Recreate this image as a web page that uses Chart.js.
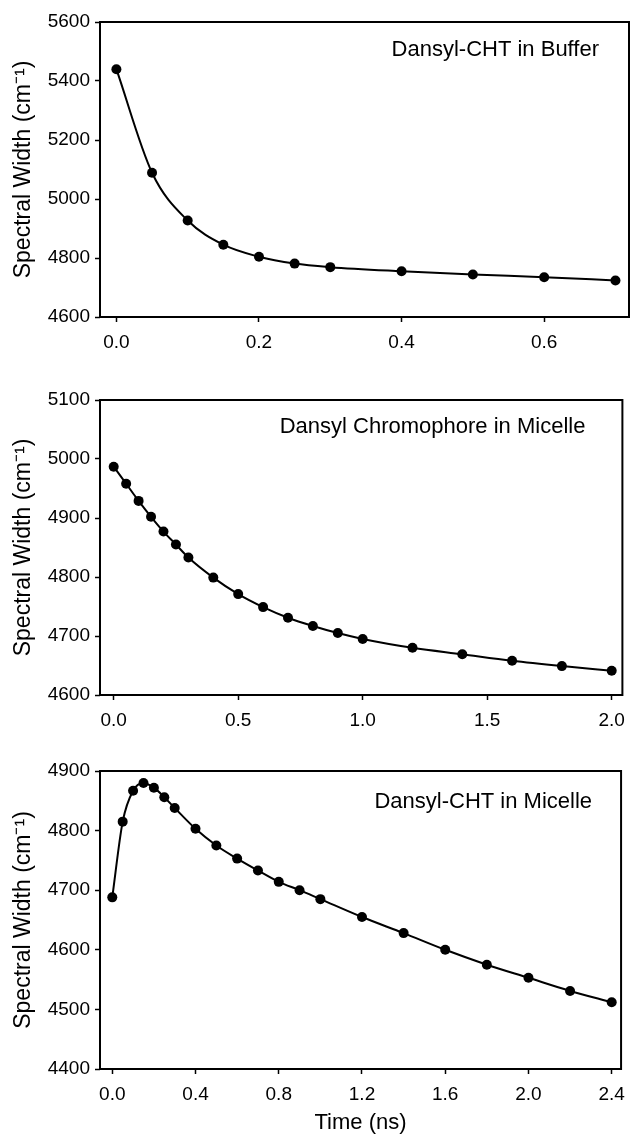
<!DOCTYPE html>
<html>
<head>
<meta charset="utf-8">
<script src="https://cdn.jsdelivr.net/npm/chart.js@4.4.1/dist/chart.umd.min.js"></script>
<style>
    html, body { margin: 0; padding: 0; background: #fff; }
    #wrap { position: relative; width: 634px; height: 1134px; }
    .panel { position: absolute; left: 0; width: 634px; }
</style>
</head>
<body>
<div id="wrap">
    <div class="panel" style="top:0px"><canvas id="chartBuffer" width="634" height="360"></canvas></div>
    <div class="panel" style="top:378px"><canvas id="chartChromophore" width="634" height="360"></canvas></div>
    <div class="panel" style="top:749px"><canvas id="chartMicelle" width="634" height="385"></canvas></div>
</div>
<script>
// Dansyl-CHT in Buffer
var bufferTime  = [0, 0.05, 0.1, 0.15, 0.2, 0.25, 0.3, 0.4, 0.5, 0.6, 0.7];
var bufferWidth = [5440, 5089, 4927, 4845, 4804, 4781, 4769, 4755, 4744, 4735, 4724];
var bufferTicksX = [0, 0.2, 0.4, 0.6];
var bufferTicksY = [4600, 4800, 5000, 5200, 5400, 5600];

// Dansyl Chromophore in Micelle
var chromTime  = [0, 0.05, 0.1, 0.15, 0.2, 0.25, 0.3, 0.4, 0.5, 0.6, 0.7, 0.8, 0.9, 1.0, 1.2, 1.4, 1.6, 1.8, 2.0];
var chromWidth = [4987, 4958, 4929, 4902, 4877, 4855, 4833, 4799, 4771, 4749, 4731, 4717, 4705, 4695, 4680, 4669, 4658, 4649, 4641];
var chromTicksX = [0, 0.5, 1.0, 1.5, 2.0];
var chromTicksY = [4600, 4700, 4800, 4900, 5000, 5100];

// Dansyl-CHT in Micelle
var micTime  = [0, 0.05, 0.1, 0.15, 0.2, 0.25, 0.3, 0.4, 0.5, 0.6, 0.7, 0.8, 0.9, 1.0, 1.2, 1.4, 1.6, 1.8, 2.0, 2.2, 2.4];
var micWidth = [4688, 4815, 4867, 4880, 4872, 4856, 4838, 4803, 4775, 4753, 4733, 4714, 4700, 4685, 4655, 4628, 4600, 4575, 4553, 4531, 4512];
var micTicksX = [0, 0.4, 0.8, 1.2, 1.6, 2.0, 2.4];
var micTicksY = [4400, 4500, 4600, 4700, 4800, 4900];

var yTitle = 'Spectral Width (cm\u207B\u00B9)';
var xTitle = 'Time (ns)';
var fontFamily = '"Liberation Sans", Arial, sans-serif';

// box round the plot area + the label in the upper right
var framePlugin = {
    id: 'frame',
    afterDraw: (chart, args, opts) => {
        var ctx = chart.ctx;
        var a = chart.chartArea;
        ctx.save();
        ctx.strokeStyle = '#000';
        ctx.lineWidth = 2;
        ctx.strokeRect(a.left, a.top, a.right - a.left, a.bottom - a.top);
        if (opts.text) {
            ctx.font = '22px ' + fontFamily;
            ctx.fillStyle = '#000';
            ctx.textAlign = 'right';
            ctx.textBaseline = 'middle';
            ctx.fillText(opts.text, a.right - opts.dx, a.top + opts.dy);
        }
        ctx.restore();
    }
};

makeChart = (id, xs, ys, ticksX, ticksY, xMin, xMax, label, showXTitle, xHeight) => {
    var points = xs.map((x, i) => ({ x: x, y: ys[i] }));
    var config = {
        type: 'scatter',
        data: {
            datasets: [{
                data: points,
                showLine: true,
                borderColor: '#000',
                borderWidth: 2,
                backgroundColor: '#000',
                pointRadius: 5,
                pointBorderWidth: 0,
                cubicInterpolationMode: 'monotone'
            }]
        },
        options: {
            responsive: false,
            animation: false,
            layout: { padding: { top: 22, right: 3, left: 0, bottom: 0 } },
            plugins: {
                legend: { display: false },
                tooltip: { enabled: false },
                frame: { text: label.text, dx: label.dx, dy: label.dy }
            },
            scales: {
                x: {
                    type: 'linear',
                    min: xMin,
                    max: xMax,
                    afterBuildTicks: (scale) => { scale.ticks = ticksX.map(v => ({ value: v })); },
                    afterFit: (scale) => { scale.height = xHeight; },
                    border: { display: false },
                    grid: { drawOnChartArea: false, drawTicks: true, tickLength: 5, tickWidth: 1.5, tickColor: '#000' },
                    ticks: {
                        color: '#000',
                        padding: 9,
                        maxRotation: 0,
                        font: { family: fontFamily, size: 19 },
                        callback: (v) => v.toFixed(1)
                    },
                    title: {
                        display: showXTitle,
                        text: xTitle,
                        color: '#000',
                        padding: { top: 0, bottom: 0 },
                        font: { family: fontFamily, size: 22, lineHeight: 1 }
                    }
                },
                y: {
                    type: 'linear',
                    min: ticksY[0],
                    max: ticksY[ticksY.length - 1],
                    afterBuildTicks: (scale) => { scale.ticks = ticksY.map(v => ({ value: v })); },
                    afterFit: (scale) => { scale.width = 100; },
                    border: { display: false },
                    grid: { drawOnChartArea: false, drawTicks: true, tickLength: 5, tickWidth: 1.5, tickColor: '#000' },
                    ticks: {
                        color: '#000',
                        padding: 5,
                        font: { family: fontFamily, size: 19 },
                        callback: (v) => String(v)
                    },
                    title: {
                        display: true,
                        text: yTitle,
                        color: '#000',
                        padding: { top: 10, bottom: 0 },
                        font: { family: fontFamily, size: 23 }
                    }
                }
            }
        },
        plugins: [framePlugin]
    };
    return new Chart(document.getElementById(id), config);
};

makeChart('chartBuffer', bufferTime, bufferWidth, bufferTicksX, bufferTicksY, -0.023, 0.719,
    { text: 'Dansyl-CHT in Buffer', dx: 30, dy: 28 }, false, 43);
makeChart('chartChromophore', chromTime, chromWidth, chromTicksX, chromTicksY, -0.055, 2.043,
    { text: 'Dansyl Chromophore in Micelle', dx: 37, dy: 27 }, false, 43);
makeChart('chartMicelle', micTime, micWidth, micTicksX, micTicksY, -0.059, 2.445,
    { text: 'Dansyl-CHT in Micelle', dx: 29, dy: 31 }, true, 65);
</script>
</body>
</html>
